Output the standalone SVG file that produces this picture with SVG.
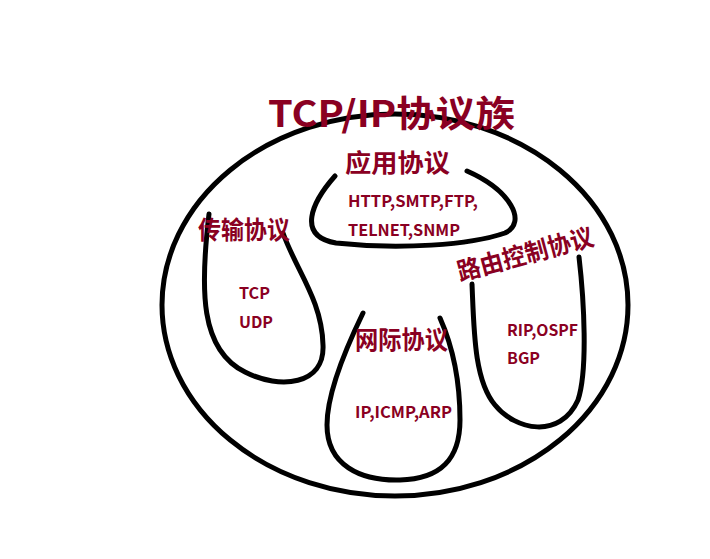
<svg xmlns="http://www.w3.org/2000/svg" width="710" height="559" viewBox="0 0 710 559">
<style>
.t{font-family:"Noto Sans CJK SC","Noto Sans",sans-serif;font-weight:bold;fill:#8a0022}
.h{font-size:25px}
.s{font-size:16px}
.ln{fill:none;stroke:#000;stroke-width:5;stroke-linecap:round}
</style>
<rect width="710" height="559" fill="#fff"/>
<g id="connectors">
<ellipse class="ln" cx="395" cy="305" rx="233" ry="191" stroke-width="4"/>
</g>
<g id="title"><text class="t" x="268" y="127" font-size="36" textLength="247" lengthAdjust="spacingAndGlyphs">TCP/IP协议族</text></g>
<g id="app">
<path class="ln" d="M335,176 C312,202 296,236 336,243 C400,250 470,245 505,233 C528,222 510,190 467,171"/>
<text class="t h" x="345" y="172" textLength="105" lengthAdjust="spacingAndGlyphs">应用协议</text>
<text class="t s" x="348" y="207" textLength="130" lengthAdjust="spacingAndGlyphs">HTTP,SMTP,FTP,</text>
<text class="t s" x="348" y="236" textLength="112" lengthAdjust="spacingAndGlyphs">TELNET,SNMP</text>
</g>
<g id="transport">
<path class="ln" d="M209,214 C200,290 200,350 245,372 C280,390 325,385 323,345 C322,300 296,270 283,233"/>
<text class="t h" x="198" y="239" textLength="92" lengthAdjust="spacingAndGlyphs">传输协议</text>
<text class="t s" x="239" y="299" textLength="31" lengthAdjust="spacingAndGlyphs">TCP</text>
<text class="t s" x="239" y="328" textLength="34" lengthAdjust="spacingAndGlyphs">UDP</text>
</g>
<g id="network">
<path class="ln" d="M363,313 C345,350 327,395 327,425 C327,465 360,481 400,480 C440,479 460,460 460,420 C460,380 452,345 440,318"/>
<text class="t h" x="355" y="349" textLength="93" lengthAdjust="spacingAndGlyphs">网际协议</text>
<text class="t s" x="355" y="418" textLength="97" lengthAdjust="spacingAndGlyphs">IP,ICMP,ARP</text>
</g>
<g id="routing">
<path class="ln" d="M472,284 C474,330 474,380 495,405 C515,430 560,440 578,400 C588,370 584,300 579,257"/>
<text class="t h" x="460" y="281" transform="rotate(-15 460 281)" textLength="140" lengthAdjust="spacingAndGlyphs">路由控制协议</text>
<text class="t s" x="507" y="336" textLength="71" lengthAdjust="spacingAndGlyphs">RIP,OSPF</text>
<text class="t s" x="507" y="364" textLength="33" lengthAdjust="spacingAndGlyphs">BGP</text>
</g>
</svg>
